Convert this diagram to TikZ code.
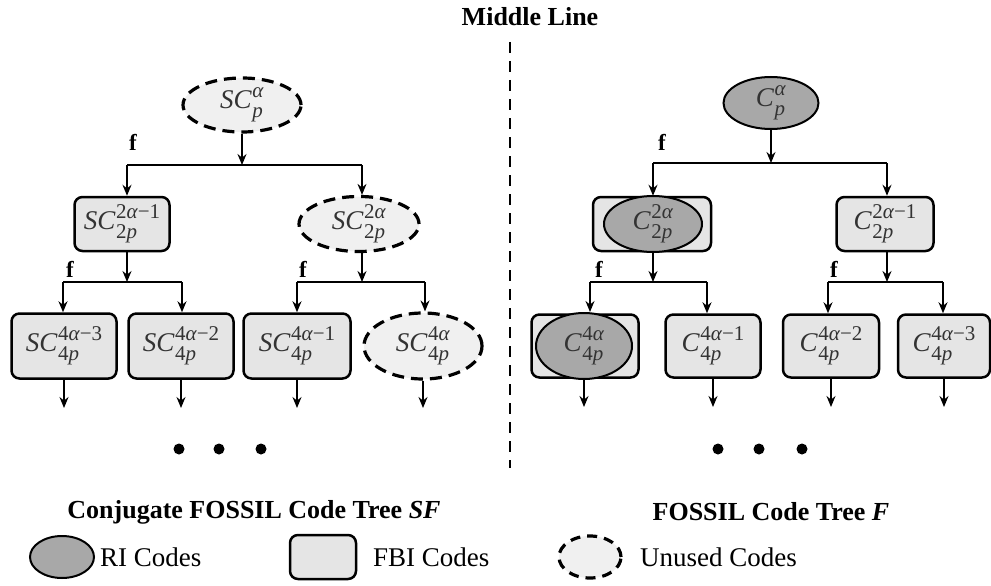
\documentclass[tikz,border=0pt]{standalone}
\usepackage{fontspec}
\setmainfont{Liberation Serif}
\usetikzlibrary{shapes.geometric,arrows.meta}

\definecolor{fbifill}{gray}{0.90}
\definecolor{rifill}{gray}{0.66}
\definecolor{unusedfill}{gray}{0.94}
\definecolor{codeink}{gray}{0.2}

% code label: base letters with stacked superscript / subscript
\newsavebox\cdsupbox
\newsavebox\cdsubbox
\newcommand\cdscr{\fontsize{21}{21}\selectfont}
\newcommand\cd[3]{\mbox{\color{codeink}\fontsize{27}{27}\selectfont\textit{#1}%
  \sbox\cdsupbox{\cdscr #3}\sbox\cdsubbox{\cdscr #2}%
  \kern0.5pt\rlap{\raisebox{11pt}{\usebox\cdsupbox}}\raisebox{-9pt}{\usebox\cdsubbox}%
  \ifdim\wd\cdsupbox>\wd\cdsubbox\kern\dimexpr\wd\cdsupbox-\wd\cdsubbox\relax\fi}}

\tikzset{
  fbibox/.style={draw, line width=2.5pt, rounded corners=8pt, fill=fbifill,
    minimum height=54pt, inner sep=0pt},
  riell/.style={ellipse, draw, line width=2pt, fill=rifill, inner sep=0pt},
  unell/.style={ellipse, draw, line width=3.2pt, dash pattern=on 12pt off 7pt,
    fill=unusedfill, inner sep=0pt},
  codetext/.style={inner sep=0pt},
  conn/.style={line width=1.5pt},
  arr/.style={conn, -{Stealth[length=11pt,width=9pt]}},
  flabel/.style={font=\fontsize{23}{23}\selectfont\bfseries, inner sep=0pt},
  title/.style={font=\fontsize{26}{26}\selectfont\bfseries, inner sep=0pt},
  legtext/.style={font=\fontsize{27}{27}\selectfont, inner sep=0pt, anchor=west},
  dot/.style={circle, fill=black, minimum size=11pt, inner sep=0pt},
}

\begin{document}
\begin{tikzpicture}[x=1pt, y=-1pt]
\useasboundingbox (0,0) rectangle (991,586);

% ---------- middle line ----------
\node[title] (mid) at (530,17) {Middle Line};
\coordinate (mtop) at (510,42);
\coordinate (mbot) at (510,468);
\draw[line width=2.8pt, dash pattern=on 11pt off 8pt] (mtop) -- (mbot);

% ---------- conjugate tree SF ----------
\node[unell, minimum width=118pt, minimum height=54pt] (r) at (242,105) {};
\node[codetext] (rt) at (r) {\cd{SC}{\textit{p}}{\textit{α}}};

\node[fbibox, minimum width=95pt] (c1) at (122,224) {\cd{SC}{2\textit{p}}{2\textit{α}−1}};
\node[unell, minimum width=120pt, minimum height=55pt] (c2) at (359,224) {};
\node[codetext] (c2t) at (c2) {\cd{SC}{2\textit{p}}{2\textit{α}}};

\node[fbibox, minimum width=105pt, minimum height=65pt] (l1) at (64,346) {\cd{SC}{4\textit{p}}{4\textit{α}−3}};
\node[fbibox, minimum width=105pt, minimum height=65pt] (l2) at (181,346) {\cd{SC}{4\textit{p}}{4\textit{α}−2}};
\node[fbibox, minimum width=107pt, minimum height=65pt] (l3) at (297,346) {\cd{SC}{4\textit{p}}{4\textit{α}−1}};
\node[unell, minimum width=118pt, minimum height=66pt] (l4) at (423,346) {};
\node[codetext] (l4t) at (l4) {\cd{SC}{4\textit{p}}{4\textit{α}}};

\coordinate (bA1) at (127,165);
\coordinate (bA2) at (362,165);
\draw[arr] (r.south) -- (r.south |- bA1);
\draw[conn] (bA1) -- (bA2);
\draw[arr] (bA1) -- (bA1 |- c1.north);
\draw[arr] (bA2) -- (bA2 |- c2.north);
\node[flabel] (fA) at (133,142) {f};

\coordinate (bB1) at (63,282);
\coordinate (bB2) at (182,282);
\coordinate (bB3) at (297,282);
\coordinate (bB4) at (425,282);
\draw[arr] (bA1 |- c1.south) -- (bA1 |- bB1);
\draw[arr] (bA2 |- c2.south) -- (bA2 |- bB3);
\draw[conn] (bB1) -- (bB2);
\draw[conn] (bB3) -- (bB4);
\draw[arr] (bB1) -- (bB1 |- l1.north);
\draw[arr] (bB2) -- (bB2 |- l2.north);
\draw[arr] (bB3) -- (bB3 |- l3.north);
\draw[arr] (bB4) -- (bB4 |- l4.north);
\node[flabel] (fB) at (70,269) {f};
\node[flabel] (fC) at (303,269) {f};

\coordinate (eL) at (0,408);
\draw[arr] (l1.south) -- (l1.south |- eL);
\draw[arr] (l2.south) -- (l2.south |- eL);
\draw[arr] (l3.south) -- (l3.south |- eL);
\draw[arr] (l4.south) -- (l4.south |- eL);

\node[dot] (dA1) at (179,449) {};
\node[dot] (dA2) at (219,449) {};
\node[dot] (dA3) at (261,449) {};

\node[title] (tSF) at (254,512) {Conjugate FOSSIL Code Tree \textit{SF}};

% ---------- code tree F ----------
\node[riell, minimum width=95pt, minimum height=52pt] (R) at (771,103) {};
\node[codetext] (Rt) at (R) {\cd{C}{\textit{p}}{\textit{α}}};

\node[fbibox, minimum width=118pt] (Rc1) at (652,224) {};
\node[riell, minimum width=98pt, minimum height=56pt] (Rc1e) at (653,224) {};
\node[codetext] (Rc1t) at (Rc1e) {\cd{C}{2\textit{p}}{2\textit{α}}};
\node[fbibox, minimum width=97pt] (Rc2) at (885,224) {\cd{C}{2\textit{p}}{2\textit{α}−1}};

\node[fbibox, minimum width=107pt, minimum height=63pt] (Rl1) at (585,346) {};
\node[riell, minimum width=96pt, minimum height=66pt] (Rl1e) at (584,346) {};
\node[codetext] (Rl1t) at (Rl1e) {\cd{C}{4\textit{p}}{4\textit{α}}};
\node[fbibox, minimum width=95pt, minimum height=63pt] (Rl2) at (713,346) {\cd{C}{4\textit{p}}{4\textit{α}−1}};
\node[fbibox, minimum width=96pt, minimum height=63pt] (Rl3) at (831,346) {\cd{C}{4\textit{p}}{4\textit{α}−2}};
\node[fbibox, minimum width=92pt, minimum height=63pt] (Rl4) at (944,346) {\cd{C}{4\textit{p}}{4\textit{α}−3}};

\coordinate (bR1) at (653,163);
\coordinate (bR2) at (887,163);
\draw[arr] (R.south) -- (R.south |- bR1);
\draw[conn] (bR1) -- (bR2);
\draw[arr] (bR1) -- (bR1 |- Rc1.north);
\draw[arr] (bR2) -- (bR2 |- Rc2.north);
\node[flabel] (fR) at (662,142) {f};

\coordinate (bS1) at (590,282);
\coordinate (bS2) at (707,282);
\coordinate (bS3) at (828,282);
\coordinate (bS4) at (943,282);
\draw[arr] (bR1 |- Rc1.south) -- (bR1 |- bS1);
\draw[arr] (bR2 |- Rc2.south) -- (bR2 |- bS3);
\draw[conn] (bS1) -- (bS2);
\draw[conn] (bS3) -- (bS4);
\draw[arr] (bS1) -- (bS1 |- Rl1e.north);
\draw[arr] (bS2) -- (bS2 |- Rl2.north);
\draw[arr] (bS3) -- (bS3 |- Rl3.north);
\draw[arr] (bS4) -- (bS4 |- Rl4.north);
\node[flabel] (fS) at (599,269) {f};
\node[flabel] (fT) at (834,269) {f};

\coordinate (eR) at (0,407);
\draw[arr] (Rl1e.south) -- (Rl1e.south |- eR);
\draw[arr] (Rl2.south) -- (Rl2.south |- eR);
\draw[arr] (Rl3.south) -- (Rl3.south |- eR);
\draw[arr] (Rl4.south) -- (Rl4.south |- eR);

\node[dot] (dB1) at (718,449) {};
\node[dot] (dB2) at (759,449) {};
\node[dot] (dB3) at (802,449) {};

\node[title] (tF) at (771,512) {FOSSIL Code Tree \textit{F}};

% ---------- legend ----------
\node[riell, minimum width=64pt, minimum height=42pt] (kRI) at (62,557) {};
\node[legtext] (kRIt) at (100,557) {RI Codes};
\node[fbibox, minimum width=66pt, minimum height=44pt] (kFBI) at (323,557) {};
\node[legtext] (kFBIt) at (373,557) {FBI Codes};
\node[unell, minimum width=62pt, minimum height=42pt, dash pattern=on 10pt off 7pt] (kUn) at (590,557) {};
\node[legtext] (kUnt) at (640,557) {Unused Codes};
\end{tikzpicture}
\end{document}
